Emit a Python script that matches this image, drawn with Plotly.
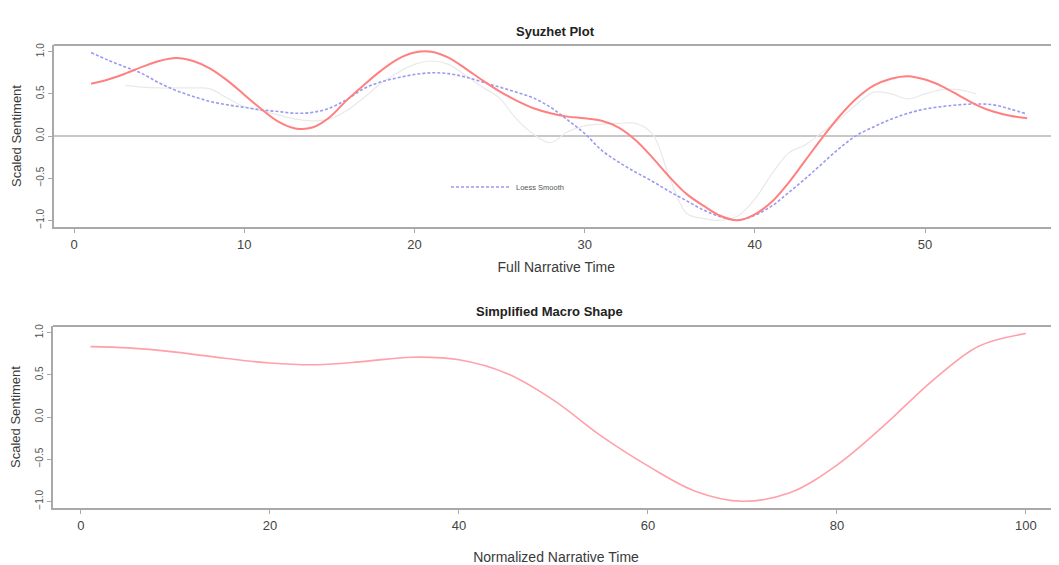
import plotly.graph_objects as go

# ---------------- data ----------------
narrative_time = list(range(1, 57))

syuzhet_dct = [0.62, 0.67, 0.74, 0.82, 0.89, 0.925, 0.89, 0.80, 0.66, 0.49,
               0.32, 0.17, 0.09, 0.10, 0.22, 0.42, 0.60, 0.77, 0.91, 0.99,
               1.00, 0.93, 0.80, 0.66, 0.53, 0.42, 0.33, 0.27, 0.23, 0.21,
               0.18, 0.10, -0.05, -0.26, -0.49, -0.69, -0.83, -0.95, -1.00, -0.93,
               -0.78, -0.55, -0.28, -0.01, 0.24, 0.45, 0.60, 0.68, 0.71, 0.67,
               0.59, 0.48, 0.37, 0.29, 0.24, 0.21]

loess_smooth = [0.99, 0.90, 0.82, 0.74, 0.63, 0.54, 0.47, 0.41, 0.37, 0.34,
                0.31, 0.29, 0.27, 0.28, 0.33, 0.43, 0.56, 0.64, 0.69, 0.73,
                0.75, 0.74, 0.70, 0.64, 0.58, 0.52, 0.45, 0.34, 0.19, 0.03,
                -0.17, -0.31, -0.43, -0.54, -0.66, -0.77, -0.88, -0.96, -1.00, -0.94,
                -0.83, -0.67, -0.50, -0.32, -0.14, 0.01, 0.11, 0.20, 0.27, 0.32,
                0.35, 0.37, 0.38, 0.37, 0.32, 0.26]

rolling_mean = [None, None, 0.60, 0.58, 0.57, 0.57, 0.57, 0.56, 0.45, 0.35,
                0.30, 0.25, 0.20, 0.18, 0.20, 0.30, 0.45, 0.62, 0.75, 0.85,
                0.89, 0.85, 0.72, 0.58, 0.45, 0.20, 0.02, -0.08, 0.05, 0.12,
                0.14, 0.15, 0.15, 0.02, -0.50, -0.92, -0.98, -1.00, -0.95, -0.75,
                -0.45, -0.20, -0.10, 0.05, 0.20, 0.38, 0.52, 0.50, 0.44, 0.50,
                0.55, 0.55, 0.50, None, None, None]

normalized_time = [1, 5, 10, 15, 20, 25, 30, 35, 40, 45, 50,
                   55, 60, 65, 70, 75, 80, 85, 90, 95, 100]
macro_shape = [0.835, 0.82, 0.77, 0.70, 0.64, 0.62, 0.66, 0.71, 0.68, 0.52, 0.20,
               -0.22, -0.58, -0.88, -1.00, -0.90, -0.57, -0.10, 0.42, 0.84, 0.99]

y_ticks = [-1.0, -0.5, 0.0, 0.5, 1.0]
top_x_ticks = [0, 10, 20, 30, 40, 50]
bottom_x_ticks = [0, 20, 40, 60, 80, 100]

# ---------------- figure ----------------
# the page body has an 8px margin, so the figure starts at (8, 8) on screen
OFF = 8
W, H = 1059 - OFF, 565 - OFF
FONT = "Liberation Sans, Arial, sans-serif"
BORDER = "#a9a9a9"


def px_x(v):
    return (v - OFF) / W


def px_y(v):
    return 1 - (v - OFF) / H


fig = go.Figure()

fig.add_trace(go.Scatter(x=narrative_time, y=rolling_mean, mode="lines",
                         line=dict(color="#e9e9e9", width=1.2, shape="spline"),
                         name="Rolling Mean", showlegend=False,
                         xaxis="x", yaxis="y"))
fig.add_trace(go.Scatter(x=narrative_time, y=loess_smooth, mode="lines",
                         line=dict(color="#9a9af0", width=1.6, dash="3px,2px", shape="spline"),
                         name="Loess Smooth", showlegend=True,
                         xaxis="x", yaxis="y"))
fig.add_trace(go.Scatter(x=narrative_time, y=syuzhet_dct, mode="lines",
                         line=dict(color="#ff8080", width=2, shape="spline"),
                         name="Syuzhet DCT", showlegend=False,
                         xaxis="x", yaxis="y"))
fig.add_trace(go.Scatter(x=normalized_time, y=macro_shape, mode="lines",
                         line=dict(color="#ffa0aa", width=1.6, shape="spline"),
                         name="Macro Shape", showlegend=False,
                         xaxis="x2", yaxis="y2"))


def xax(domain, rng, ticks, title, standoff, anchor):
    return dict(domain=domain, range=rng, tickvals=ticks, ticks="outside",
                ticklen=4, tickcolor=BORDER, tickwidth=1, anchor=anchor,
                showline=True, linecolor=BORDER, linewidth=2,
                showgrid=False, zeroline=False,
                tickfont=dict(size=13, color="#444444", family=FONT),
                title=dict(text=title, standoff=standoff,
                           font=dict(size=14, color="#3a3a3a", family=FONT)))


def yax(domain, anchor):
    return dict(domain=domain, range=[-1.08, 1.08], tickvals=y_ticks, tickformat=".1f",
                ticks="outside", ticklen=4, tickcolor=BORDER, tickwidth=1,
                tickangle=-90, anchor=anchor,
                showline=True, linecolor=BORDER, linewidth=2,
                showgrid=False, zeroline=False,
                tickfont=dict(size=10, color="#555555", family=FONT),
                title=dict(text="Scaled Sentiment", standoff=10,
                           font=dict(size=13, color="#3a3a3a", family=FONT)))


fig.update_layout(
    width=W, height=H,
    margin=dict(l=0, r=0, t=0, b=0, autoexpand=False),
    paper_bgcolor="white", plot_bgcolor="white",
    font=dict(family=FONT),
    xaxis=xax([px_x(53.6), 1.0], [-1.2, 57.87], top_x_ticks, "Full Narrative Time", 12, "y"),
    yaxis=yax([px_y(227), px_y(45)], "x"),
    xaxis2=xax([px_x(53.0), 1.0], [-2.96, 103.5], bottom_x_ticks, "Normalized Narrative Time", 22, "y2"),
    yaxis2=yax([px_y(508), px_y(326)], "x2"),
    showlegend=True,
    legend=dict(x=px_x(446), y=px_y(187), xanchor="left", yanchor="middle",
                bgcolor="rgba(0,0,0,0)", borderwidth=0, itemwidth=60,
                font=dict(size=7.5, color="#555555", family=FONT)),
)

# top border lines of each panel and zero line in the top panel
fig.add_shape(type="line", xref="x domain", yref="y domain", x0=0, x1=1, y0=1, y1=1,
              line=dict(color=BORDER, width=2))
fig.add_shape(type="line", xref="x2 domain", yref="y2 domain", x0=0, x1=1, y0=1, y1=1,
              line=dict(color=BORDER, width=2))
fig.add_shape(type="line", xref="x domain", yref="y", x0=0, x1=1, y0=0, y1=0,
              line=dict(color="#c8c8c8", width=2), layer="below")

# panel titles
fig.add_annotation(text="<b>Syuzhet Plot</b>", xref="paper", yref="paper",
                   x=px_x(555), y=px_y(22), showarrow=False,
                   font=dict(size=13, color="#222222", family=FONT))
fig.add_annotation(text="<b>Simplified Macro Shape</b>", xref="paper", yref="paper",
                   x=px_x(549), y=px_y(311), showarrow=False,
                   font=dict(size=13, color="#222222", family=FONT))

fig.write_html("out.html")
